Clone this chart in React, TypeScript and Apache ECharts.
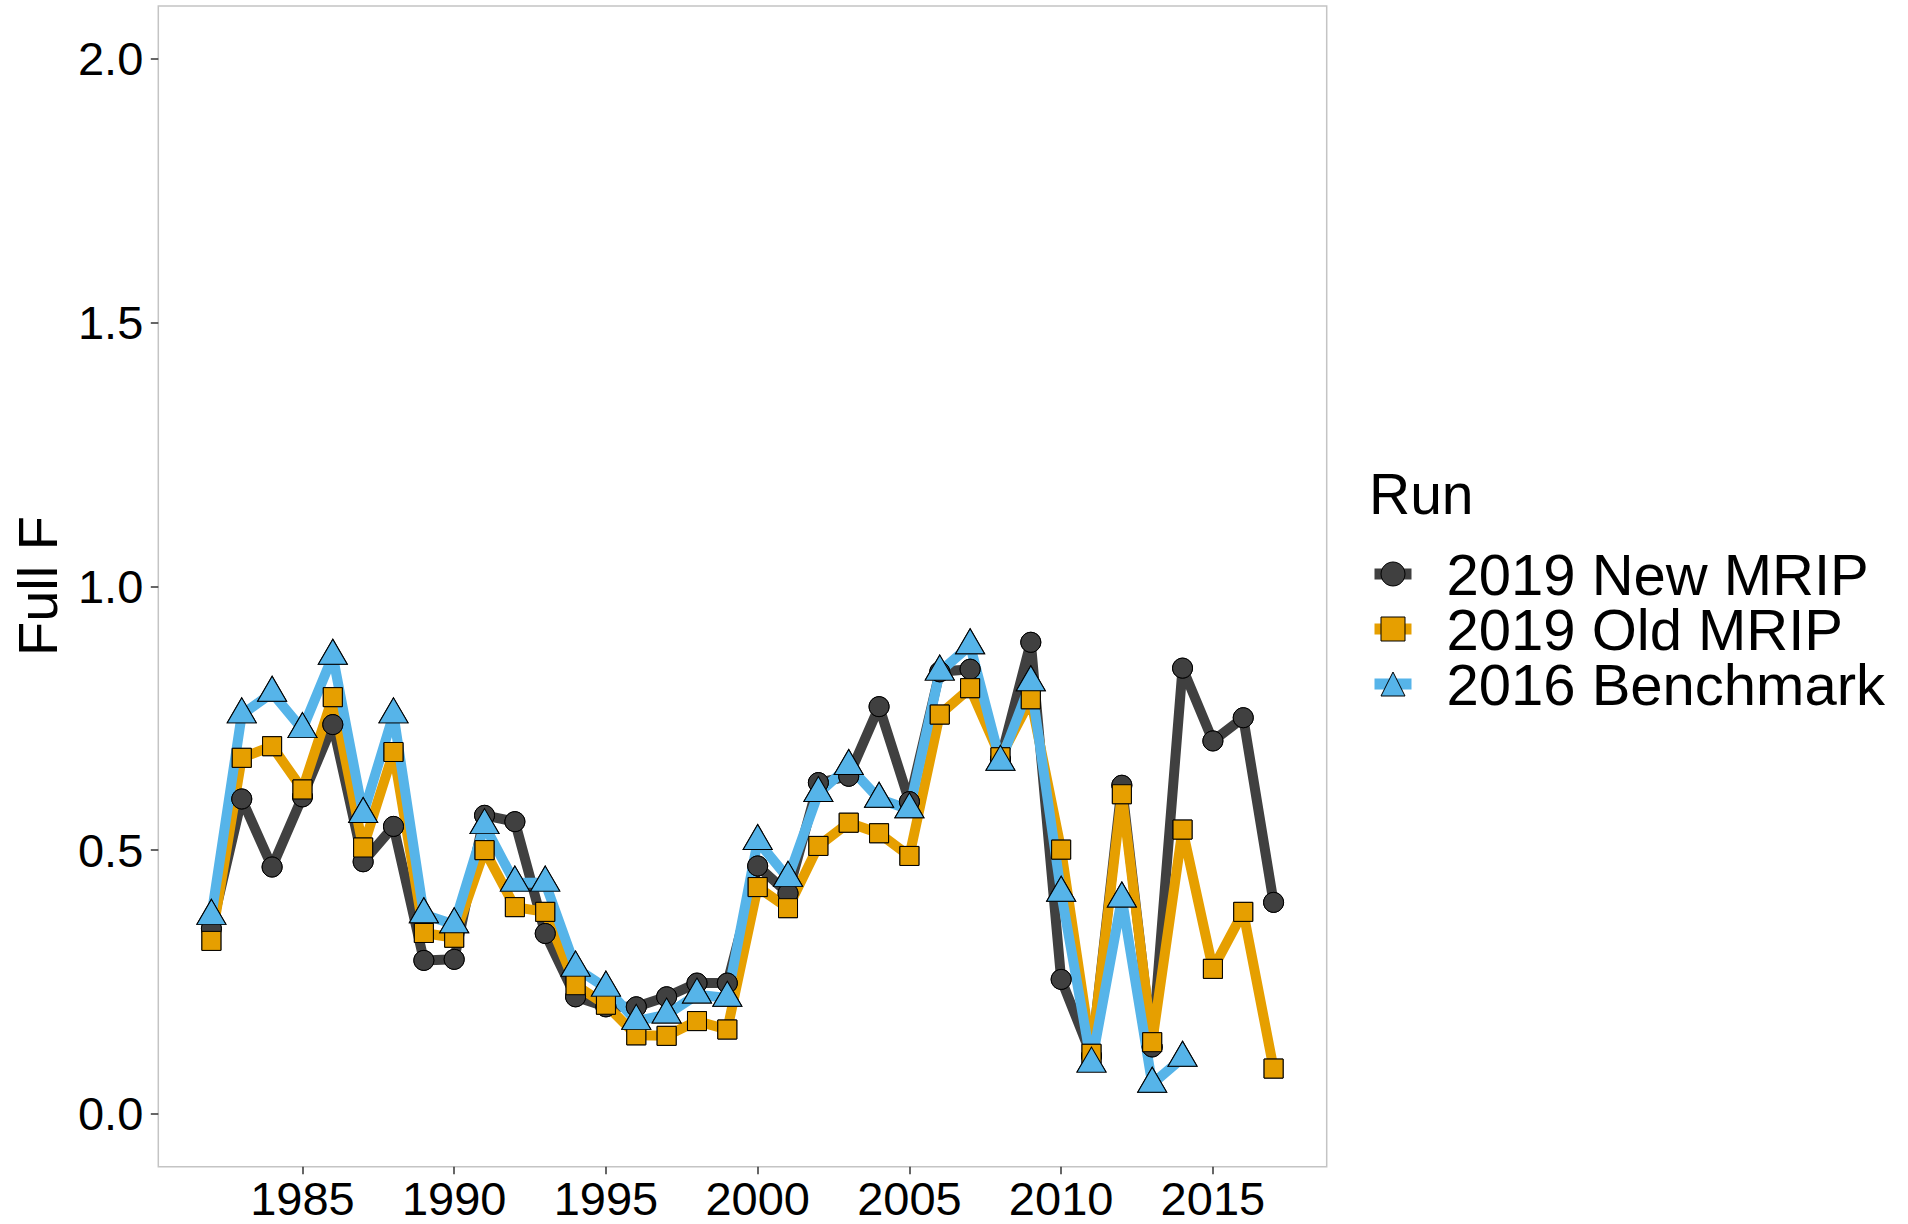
import React, { useEffect, useRef } from "react";
import * as echarts from "echarts";

const years = [
  1982, 1983, 1984, 1985, 1986, 1987, 1988, 1989, 1990, 1991, 1992, 1993,
  1994, 1995, 1996, 1997, 1998, 1999, 2000, 2001, 2002, 2003, 2004, 2005,
  2006, 2007, 2008, 2009, 2010, 2011, 2012, 2013, 2014, 2015, 2016, 2017,
];

const newMRIP = [
  0.351, 0.597, 0.468, 0.601, 0.738, 0.478, 0.545, 0.291, 0.293, 0.566, 0.554, 0.342,
  0.222, 0.203, 0.203, 0.222, 0.248, 0.248, 0.47, 0.418, 0.628, 0.64, 0.772, 0.592,
  0.838, 0.843, 0.672, 0.894, 0.255, 0.11, 0.623, 0.127, 0.845, 0.707, 0.751, 0.401,
];

const oldMRIP = [
  0.328, 0.675, 0.697, 0.615, 0.79, 0.505, 0.686, 0.343, 0.334, 0.5, 0.392, 0.383,
  0.244, 0.207, 0.149, 0.148, 0.176, 0.16, 0.43, 0.39, 0.508, 0.552, 0.532, 0.489,
  0.757, 0.807, 0.676, 0.786, 0.501, 0.114, 0.606, 0.136, 0.539, 0.275, 0.383, 0.086,
];

const benchmark: (number | null)[] = [
  0.375, 0.757, 0.798, 0.729, 0.868, 0.568, 0.757, 0.378, 0.359, 0.547, 0.438, 0.438,
  0.277, 0.239, 0.176, 0.188, 0.226, 0.22, 0.517, 0.447, 0.608, 0.659, 0.597, 0.577,
  0.838, 0.888, 0.667, 0.818, 0.419, 0.095, 0.408, 0.057, 0.106, null, null, null,
];

const seriesNames = ["2019 New MRIP", "2019 Old MRIP", "2016 Benchmark"];
const xTicks = [1985, 1990, 1995, 2000, 2005, 2010, 2015];
const yTicks = [0, 0.5, 1, 1.5, 2];

const FONT = "'Liberation Sans', Arial, Helvetica, sans-serif";

function pairs(vals: (number | null)[]) {
  const out: [number, number][] = [];
  vals.forEach((v, i) => {
    if (v !== null && v !== undefined) out.push([years[i], v]);
  });
  return out;
}

export default function App() {
  const ref = useRef<HTMLDivElement>(null);

  useEffect(() => {
    if (!ref.current) return;
    const chart = echarts.init(ref.current, undefined, { renderer: "svg" });

    const styles = [
      { color: "#404040", symbol: "circle", size: 20, offset: [0, 0] },
      { color: "#E69F00", symbol: "rect", size: 19, offset: [0, 0] },
      { color: "#56B4E9", symbol: "triangle", size: [29, 25], offset: [0, -4.2] },
    ];
    const datas = [newMRIP, oldMRIP, benchmark];

    const lineSeries = datas.map((d, i) => ({
      type: "line",
      name: seriesNames[i],
      data: pairs(d),
      symbol: styles[i].symbol,
      symbolSize: styles[i].size,
      symbolOffset: styles[i].offset,
      showSymbol: true,
      z: 2,
      lineStyle: { color: styles[i].color, width: 10, cap: "butt", join: "round" },
      itemStyle: { color: styles[i].color, borderColor: "#000", borderWidth: 1, opacity: 1 },
      emphasis: { disabled: true },
    }));

    const pointSeries = datas.map((d, i) => ({
      type: "scatter",
      name: seriesNames[i] + " pts",
      data: pairs(d),
      symbol: styles[i].symbol,
      symbolSize: styles[i].size,
      symbolOffset: styles[i].offset,
      z: 5,
      itemStyle: { color: styles[i].color, borderColor: "#000", borderWidth: 1, opacity: 1 },
      emphasis: { disabled: true },
    }));

    chart.setOption({
      animation: false,
      backgroundColor: "#ffffff",
      grid: {
        left: 158.3,
        top: 6,
        width: 1168.4,
        height: 1160.7,
        show: true,
        borderColor: "#c4c4c4",
        borderWidth: 1.5,
        backgroundColor: "transparent",
        containLabel: false,
      },
      xAxis: {
        type: "value",
        min: 1980.25,
        max: 2018.75,
        splitLine: { show: false },
        axisLine: { show: false, onZero: false },
        axisTick: {
          show: true,
          customValues: xTicks,
          length: 7.5,
          lineStyle: { color: "#333333", width: 1.5 },
        },
        axisLabel: {
          customValues: xTicks,
          formatter: (v: number) => String(Math.round(v)),
          color: "#000",
          fontSize: 47,
          lineHeight: 44,
          fontFamily: FONT,
          margin: 10,
        },
      },
      yAxis: {
        type: "value",
        min: -0.1,
        max: 2.1,
        splitLine: { show: false },
        axisLine: { show: false, onZero: false },
        axisTick: {
          show: true,
          customValues: yTicks,
          length: 7.5,
          lineStyle: { color: "#333333", width: 1.5 },
        },
        axisLabel: {
          customValues: yTicks,
          formatter: (v: number) => v.toFixed(1),
          color: "#000",
          fontSize: 47,
          fontFamily: FONT,
          margin: 15,
        },
      },
      legend: {
        data: seriesNames,
        orient: "vertical",
        left: 1369,
        top: 545,
        padding: 0,
        itemGap: -3,
        itemWidth: 37,
        itemHeight: 30,
        selectedMode: false,
        lineStyle: { width: 11 },
        itemStyle: { borderColor: "#000", borderWidth: 1 },
        textStyle: {
          fontSize: 58,
          fontFamily: FONT,
          color: "#000",
          lineHeight: 54,
          padding: [0, 0, 0, 30],
        },
      },
      graphic: [
        {
          type: "text",
          x: 1369,
          y: 494,
          style: {
            text: "Run",
            fontSize: 57,
            fontFamily: FONT,
            fill: "#000",
            align: "left",
            verticalAlign: "middle",
          },
        },
        {
          type: "text",
          x: 37.5,
          y: 586,
          rotation: Math.PI / 2,
          style: {
            text: "Full F",
            fontSize: 56,
            fontFamily: FONT,
            fill: "#000",
            align: "center",
            verticalAlign: "middle",
          },
        },
      ],
      series: [...lineSeries, ...pointSeries],
    });

    return () => {
      chart.dispose();
    };
  }, []);

  return (
    <div
      ref={ref}
      style={{ position: "absolute", left: 0, top: 0, width: 1908, height: 1224, background: "#fff" }}
    />
  );
}
